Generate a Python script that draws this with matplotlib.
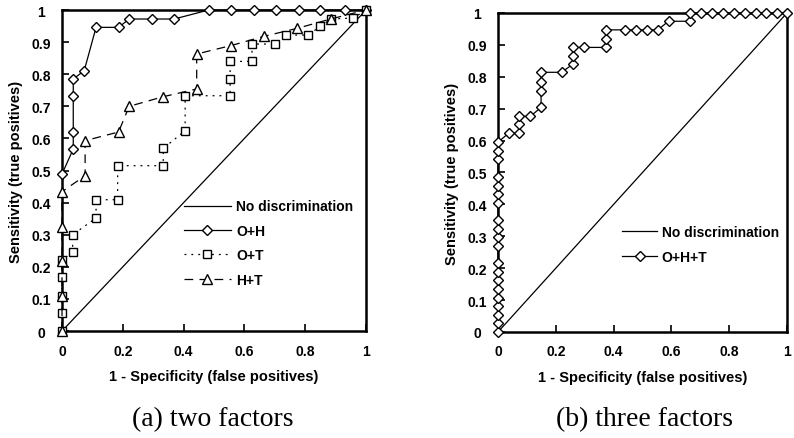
import numpy as np
import matplotlib
matplotlib.use('Agg')
from matplotlib import pyplot as plt

# (a) two factors
oh_x = [0, 0.037, 0.037, 0.037, 0.037, 0.073, 0.112, 0.186, 0.221, 0.297, 0.369,
        0.482, 0.555, 0.63, 0.705, 0.78, 0.85, 0.93, 1.0]
oh_y = [0.489, 0.567, 0.62, 0.731, 0.785, 0.811, 0.946, 0.946, 0.972, 0.972, 0.972,
        1.0, 1.0, 1.0, 1.0, 1.0, 1.0, 1.0, 1.0]

ot_x = [0, 0, 0, 0, 0, 0.035, 0.035, 0.112, 0.112, 0.183, 0.183, 0.333, 0.333,
        0.405, 0.405, 0.553, 0.553, 0.553, 0.625, 0.625, 0.70, 0.737, 0.81,
        0.849, 0.885, 0.958, 1.0]
ot_y = [0, 0.056, 0.11, 0.167, 0.22, 0.247, 0.30, 0.352, 0.409, 0.409, 0.515,
        0.515, 0.569, 0.624, 0.733, 0.733, 0.785, 0.84, 0.84, 0.894, 0.894,
        0.922, 0.922, 0.949, 0.972, 0.975, 1.0]

ht_x = [0, 0, 0, 0, 0, 0.076, 0.076, 0.186, 0.221, 0.333, 0.443, 0.443, 0.555,
        0.664, 0.774, 0.884, 1.0]
ht_y = [0, 0.11, 0.219, 0.325, 0.434, 0.484, 0.593, 0.62, 0.70, 0.73, 0.754,
        0.863, 0.889, 0.918, 0.943, 0.972, 1.0]

# (b) three factors
oht_x = [0] * 20 + [0.037, 0.072, 0.072, 0.072, 0.112, 0.149, 0.149, 0.149, 0.149,
                    0.22, 0.26, 0.26, 0.26, 0.296, 0.372, 0.372, 0.372, 0.44,
                    0.477, 0.515, 0.553, 0.59, 0.664, 0.664, 0.704, 0.741, 0.778,
                    0.815, 0.854, 0.891, 0.929, 0.965, 1.0]
oht_y = [0, 0.027, 0.054, 0.081, 0.108, 0.135, 0.162, 0.189, 0.216, 0.270, 0.297,
         0.324, 0.351, 0.405, 0.432, 0.459, 0.486, 0.541, 0.568, 0.595,
         0.623, 0.623, 0.652, 0.676, 0.676, 0.704, 0.756, 0.785, 0.814,
         0.814, 0.84, 0.864, 0.892, 0.892, 0.892, 0.918, 0.947, 0.947,
         0.947, 0.947, 0.947, 0.974, 0.974, 1.0, 1.0, 1.0, 1.0,
         1.0, 1.0, 1.0, 1.0, 1.0, 1.0]

ticks = [0, 0.1, 0.2, 0.3, 0.4, 0.5, 0.6, 0.7, 0.8, 0.9, 1]
tick_labels = ['0', '0.1', '0.2', '0.3', '0.4', '0.5', '0.6', '0.7', '0.8', '0.9', '1']
xticks = [0, 0.2, 0.4, 0.6, 0.8, 1]
xtick_labels = ['0', '0.2', '0.4', '0.6', '0.8', '1']

sans = ['Liberation Sans Narrow', 'Liberation Sans', 'DejaVu Sans']
plt.rcParams['font.family'] = sans

fig = plt.figure(figsize=(7.94, 4.39), dpi=100)
ax1 = fig.add_axes([0.0781, 0.2437, 0.3829, 0.7312])
ax2 = fig.add_axes([0.6272, 0.2415, 0.3640, 0.7267])


def style(ax):
    ax.set_xlim(0, 1)
    ax.set_ylim(0, 1)
    ax.set_xticks(xticks)
    ax.set_xticklabels(xtick_labels, fontsize=10, fontweight='bold')
    ax.set_yticks(ticks)
    ax.set_yticklabels(tick_labels, fontsize=10, fontweight='bold', ha='center')
    ax.tick_params(direction='in', length=5, width=1.2)
    ax.tick_params(axis='y', pad=15)
    ax.tick_params(axis='x', pad=9)
    for s in ax.spines.values():
        s.set_linewidth(1.8)
    ax.set_xlabel('1 - Specificity (false positives)', fontsize=10.5,
                  fontweight='bold', labelpad=8)
    ax.set_ylabel('Sensitivity (true positives)', fontsize=10.5,
                  fontweight='bold', labelpad=6)


mk = dict(mfc='white', mec='black', mew=1.0, clip_on=False, zorder=3)

# (a)
ax1.plot([0, 1], [0, 1], color='black', lw=0.9, label='No discrimination')
ax1.plot(oh_x, oh_y, color='black', lw=0.9, marker='D', ms=5,
         label='O+H', **mk)
ax1.plot(ot_x, ot_y, color='black', lw=0.9, ls=(0, (1.5, 4)), marker='s', ms=6,
         label='O+T', **mk)
ax1.plot(ht_x, ht_y, color='black', lw=0.9, ls=(0, (7, 5)), marker='^', ms=7,
         label='H+T', **mk)
style(ax1)
ax1.legend(loc='upper left', bbox_to_anchor=(0.40, 0.41), frameon=False,
           prop={'weight': 'bold', 'size': 10}, handlelength=3.4,
           handletextpad=0.4, labelspacing=0.75, borderpad=0, borderaxespad=0)

# (b)
ax2.plot([0, 1], [0, 1], color='black', lw=0.9, label='No discrimination')
ax2.plot(oht_x, oht_y, color='black', lw=0.9, marker='D', ms=5,
         label='O+H+T', **mk)
style(ax2)
ax2.legend(loc='upper left', bbox_to_anchor=(0.43, 0.335), frameon=False,
           prop={'weight': 'bold', 'size': 10}, handlelength=2.5,
           handletextpad=0.35, labelspacing=0.8, borderpad=0, borderaxespad=0)

fig.text(213 / 794, 1 - 420 / 439, '(a) two factors', family='Liberation Serif',
         fontsize=20, ha='center', va='center')
fig.text(645 / 794, 1 - 420 / 439, '(b) three factors', family='Liberation Serif',
         fontsize=20, ha='center', va='center')

fig.savefig('out.png', dpi=100)
